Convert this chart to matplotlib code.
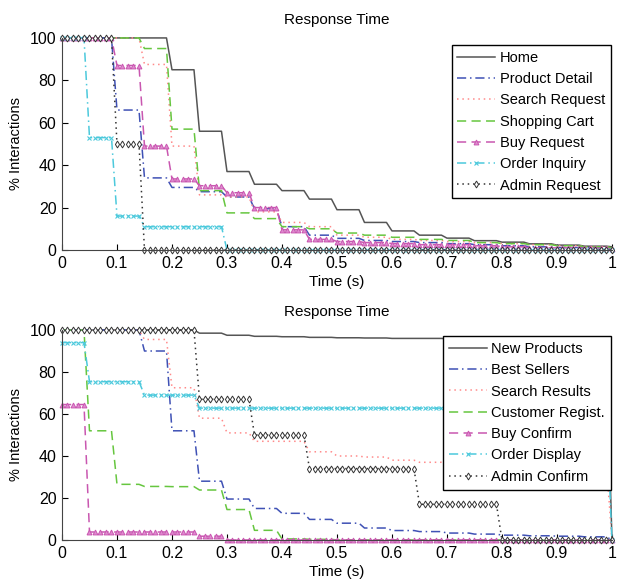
import numpy as np
import matplotlib
matplotlib.use("Agg")
import matplotlib.pyplot as plt

# Valores leidos por tramos de 0.05 s (0, 0.05, ..., 1.0), en % de interacciones
bin_starts = [0.00, 0.05, 0.10, 0.15, 0.20, 0.25, 0.30, 0.35, 0.40, 0.45, 0.50,
              0.55, 0.60, 0.65, 0.70, 0.75, 0.80, 0.85, 0.90, 0.95, 1.00]

# --- Grafico superior ---
home = [100, 100, 100, 100, 85, 56, 37, 31, 28, 24, 19, 13, 9, 7, 5.6, 4.4, 3.7, 2.9, 2.3, 1.8, 1.5]
product_detail = [100, 100, 66, 34, 29.5, 27.5, 25, 19.5, 11, 7, 5.5, 4.5, 4, 3.5, 3, 2.5, 2, 1.5, 1.2, 1, 0.8]
search_request = [100, 100, 100, 87.5, 49, 26, 25, 18, 13, 11, 7, 6, 5, 4.5, 4, 3.5, 3, 2.5, 2, 1.5, 1]
shopping_cart = [100, 100, 100, 95, 57, 28, 17.5, 14.8, 11, 10, 8, 7, 6, 5, 4.5, 3.5, 3, 2.5, 2, 1.5, 1]
buy_request = [100, 100, 87, 49, 33.5, 30.3, 27, 20, 9.5, 5, 4, 3.5, 3, 2.5, 2.5, 2, 1.5, 1, 1, 0.8, 0.5]
order_inquiry = [100, 53, 16, 11, 11, 11, 0, 0, 0, 0, 0, 0, 0, 0, 0, 0, 0, 0, 0, 0, 0]
admin_request = [100, 100, 50, 0, 0, 0, 0, 0, 0, 0, 0, 0, 0, 0, 0, 0, 0, 0, 0, 0, 0]

# --- Grafico inferior ---
new_products = [100, 100, 100, 100, 100, 98.5, 97.5, 97, 96.8, 96.5, 96.3, 96.2, 96, 96, 95.8, 95.7, 95.6, 95.5, 95.4, 95.3, 0]
best_sellers = [100, 100, 100, 90, 52, 28, 19.5, 15, 12.7, 9.8, 8, 5.7, 4.5, 4, 3.3, 2.8, 2.3, 2, 1.8, 1.5, 0]
search_results = [100, 100, 100, 95.5, 72.5, 58, 51, 47, 47, 42, 40, 39.5, 38, 37, 36.5, 36.2, 36, 36, 36, 36, 0]
customer_regist = [100, 52, 26.5, 25.5, 25.4, 23.8, 14.5, 4.6, 0.5, 0.3, 0, 0, 0, 0, 0, 0, 0, 0, 0, 0, 0]
buy_confirm = [64.5, 3.8, 3.8, 3.8, 3.8, 1.8, 0, 0, 0, 0, 0, 0, 0, 0, 0, 0, 0, 0, 0, 0, 0]
order_display = [94, 75.4, 75.4, 69, 69, 62.8, 62.8, 62.8, 62.8, 62.8, 62.8, 62.8, 62.8, 62.8, 62.8, 62.8, 62.8, 62.8, 62.8, 62.8, 0]
admin_confirm = [100, 100, 100, 100, 100, 67, 67, 50, 50, 34, 34, 34, 34, 17, 17, 17, 0, 0, 0, 0, 0]

top_labels = ['Home', 'Product Detail', 'Search Request', 'Shopping Cart',
              'Buy Request', 'Order Inquiry', 'Admin Request']
bottom_labels = ['New Products', 'Best Sellers', 'Search Results', 'Customer Regist.',
                 'Buy Confirm', 'Order Display', 'Admin Confirm']

# estilos: (color, linestyle, marker)
styles = [
    ('#555555', '-', None),
    ('#3f51b5', '-.', None),
    ('#ff8a8a', ':', None),
    ('#66c63f', '--', None),
    ('#c957b0', '--', '^'),
    ('#4cc9dc', '-.', 'x'),
    ('#333333', ':', 'd'),
]

plt.rcParams['font.family'] = ['Liberation Sans', 'DejaVu Sans']
plt.rcParams['font.size'] = 10.5
# guiones mas largos, al estilo MATLAB
plt.rcParams['lines.dashed_pattern'] = [6, 3.5]
plt.rcParams['lines.dashdot_pattern'] = [6, 2.5, 1, 2.5]
plt.rcParams['lines.dotted_pattern'] = [1, 2.5]

# muestreo cada 0.01 s; cada tramo de 0.05 s mantiene su valor
t = np.round(np.arange(101) * 0.01, 2)
idx = np.arange(101) // 5


def draw_panel(ax, series, labels, legend_anchor):
    for vals, label, (color, ls, mk) in zip(series, labels, styles):
        y = np.asarray(vals, dtype=float)[idx]
        kw = dict(color=color, linestyle=ls, linewidth=1.1, label=label, clip_on=False)
        if mk == '^':
            kw.update(marker='^', markersize=3.5, markerfacecolor='#e08ad0', markeredgecolor=color,
                      markeredgewidth=0.7)
        elif mk == 'x':
            kw.update(marker='x', markersize=2.8, markeredgewidth=0.8)
        elif mk == 'd':
            kw.update(marker='d', markersize=3.5, markerfacecolor='white', markeredgecolor=color,
                      markeredgewidth=0.7)
        ax.plot(t, y, **kw)
    ax.set_xlim(0, 1)
    ax.set_ylim(0, 100)
    ax.set_xticks(np.round(np.arange(0, 1.01, 0.1), 1))
    ax.set_xticklabels(['0', '0.1', '0.2', '0.3', '0.4', '0.5', '0.6', '0.7', '0.8', '0.9', '1'])
    ax.set_yticks([0, 20, 40, 60, 80, 100])
    ax.tick_params(direction='in', length=4, width=0.8, pad=4, labelsize=11.5)
    ax.spines['top'].set_visible(False)
    ax.spines['right'].set_visible(False)
    ax.spines['left'].set_color('#444444')
    ax.spines['bottom'].set_color('#444444')
    ax.set_title('Response Time', pad=10, fontsize=11)
    ax.set_xlabel('Time (s)', labelpad=3, fontsize=11)
    ax.set_ylabel('% Interactions', labelpad=5)
    leg = ax.legend(loc='upper right', bbox_to_anchor=legend_anchor, fancybox=False,
                    framealpha=1, edgecolor='black', handlelength=2.6, labelspacing=0.5,
                    borderaxespad=0, handletextpad=0.3, borderpad=0.4)
    leg.get_frame().set_linewidth(1.0)


fig = plt.figure(figsize=(6.2, 5.81), dpi=100)
ax1 = fig.add_axes([0.1, 0.5697, 0.887, 0.365])
ax2 = fig.add_axes([0.1, 0.0706, 0.887, 0.3614])

draw_panel(ax1, [home, product_detail, search_request, shopping_cart,
                 buy_request, order_inquiry, admin_request], top_labels, (0.998, 0.967))
draw_panel(ax2, [new_products, best_sellers, search_results, customer_regist,
                 buy_confirm, order_display, admin_confirm], bottom_labels, (0.998, 0.971))

fig.savefig('out.png', dpi=100)
